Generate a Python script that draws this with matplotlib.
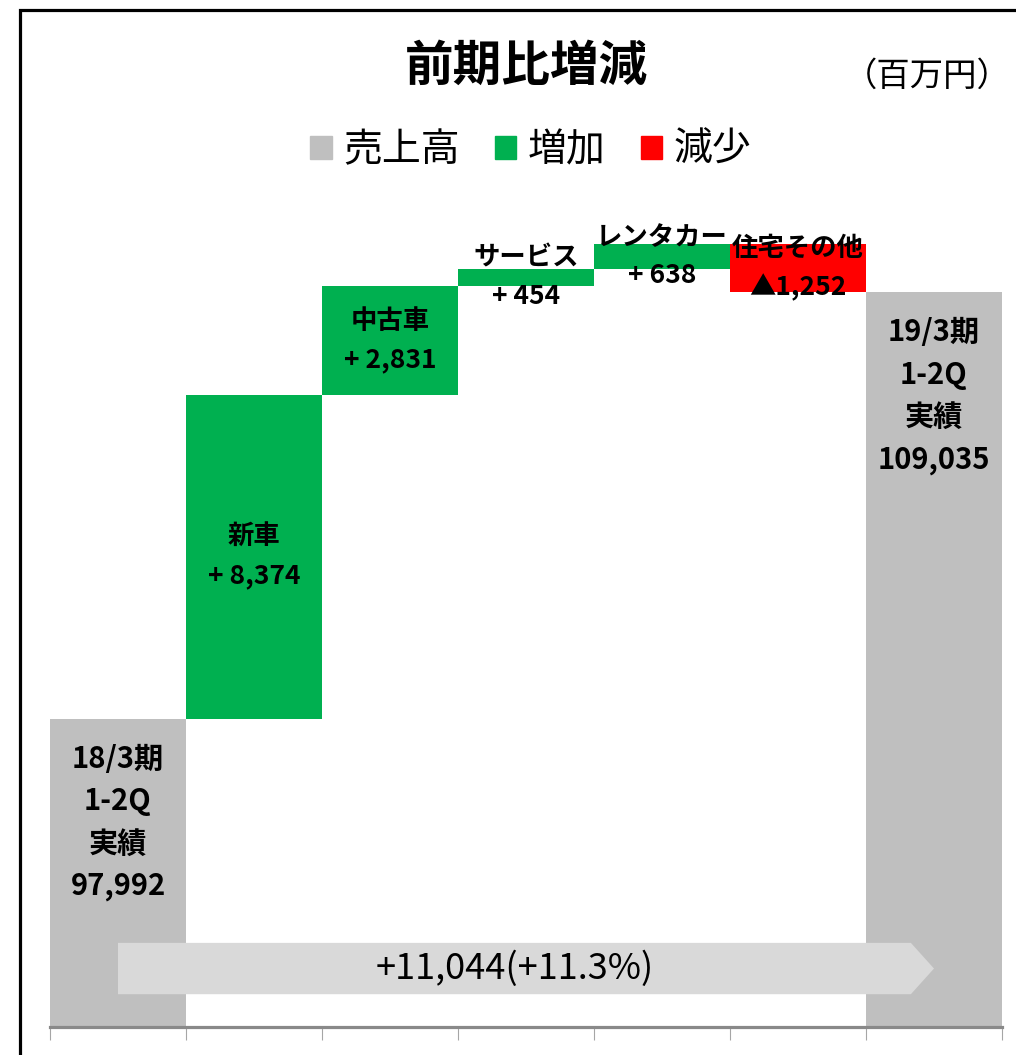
import matplotlib
matplotlib.use('Agg')
import matplotlib.pyplot as plt
from matplotlib.patches import Patch, Polygon, Rectangle

plt.rcParams['font.family'] = ['Noto Sans CJK JP', 'DejaVu Sans']

# Data
start_label = ['18/3期', '1-2Q', '実績']
end_label = ['19/3期', '1-2Q', '実績']
start_value = 97992
end_value = 109035
step_names = ['新車', '中古車', 'サービス', 'レンタカー', '住宅その他']
step_values = [8374, 2831, 454, 638, -1252]
total_change = '+11,044(+11.3%)'

c_total = '#bfbfbf'
c_up = '#00b050'
c_down = '#ff0000'

W, H = 1016, 1055
fig = plt.figure(figsize=(W / 100, H / 100), dpi=100)

# outer frame (runs off the right and bottom edges)
fig.patches.append(Rectangle((20 / W, -0.05), 1.1, 1 - 10 / H + 0.05, transform=fig.transFigure,
                             fill=False, edgecolor='black', linewidth=2.3))

ax = fig.add_axes([50 / W, 28 / H, 952 / W, 849 / H])
ax.set_xlim(-0.5, 6.5)
ax.set_ylim(90000, 112000)

# totals
n = len(step_values)
ax.bar([0, n + 1], [start_value, end_value], width=1.0, color=c_total, zorder=2)

# steps
running = start_value
for i, (name, v) in enumerate(zip(step_names, step_values), start=1):
    bottom = running if v >= 0 else running + v
    ax.bar(i, abs(v), bottom=bottom, width=1.0, color=c_up if v >= 0 else c_down, zorder=2)
    txt = f'+ {v:,}' if v >= 0 else f'▲{-v:,}'
    ax.text(i, bottom + abs(v) / 2, f'{name}\n{txt}', ha='center', va='center',
            fontsize=19, fontweight='bold', linespacing=1.55, zorder=5)
    running += v

for x, lab, val in [(0, start_label, start_value), (n + 1, end_label, end_value)]:
    ax.annotate('\n'.join(lab + [f'{val:,}']), xy=(x, val), xytext=(0, -18),
                textcoords='offset points', ha='center', va='top',
                fontsize=21, fontweight='bold', linespacing=1.52, zorder=5)

# change arrow between the two totals
y0, y1 = 90850, 92180
body_end = n + 1 - 0.17
arrow = Polygon([(0, y0), (body_end, y0), (n + 1, (y0 + y1) / 2), (body_end, y1), (0, y1)],
                closed=True, facecolor='#d9d9d9', edgecolor='none', zorder=3)
ax.add_patch(arrow)
ax.text(body_end / 2, (y0 + y1) / 2, total_change, ha='center', va='center',
        fontsize=26, zorder=5)

# axis styling
for s in ['left', 'top', 'right']:
    ax.spines[s].set_visible(False)
ax.spines['bottom'].set_color('#898989')
ax.spines['bottom'].set_linewidth(2.3)
ax.set_yticks([])
ax.set_xticks([x - 0.5 for x in range(n + 3)])
ax.set_xticklabels([])
ax.tick_params(axis='x', direction='out', length=9.5, width=0.8, color='#a6a6a6')

fig.text(0.518, 1 - 66 / H, '前期比増減', ha='center', va='center', fontsize=35, fontweight='bold')
fig.text(0.995, 1 - 76 / H, '（百万円）', ha='right', va='center', fontsize=24)

handles = [Patch(color=c_total, label='売上高'), Patch(color=c_up, label='増加'),
           Patch(color=c_down, label='減少')]
fig.legend(handles=handles, loc='center', bbox_to_anchor=(531 / W, 1 - 150 / H), ncol=3,
           frameon=False, fontsize=28, handlelength=0.55, handleheight=0.55,
           handletextpad=0.3, columnspacing=0.9)

fig.savefig('out.png', dpi=100)
